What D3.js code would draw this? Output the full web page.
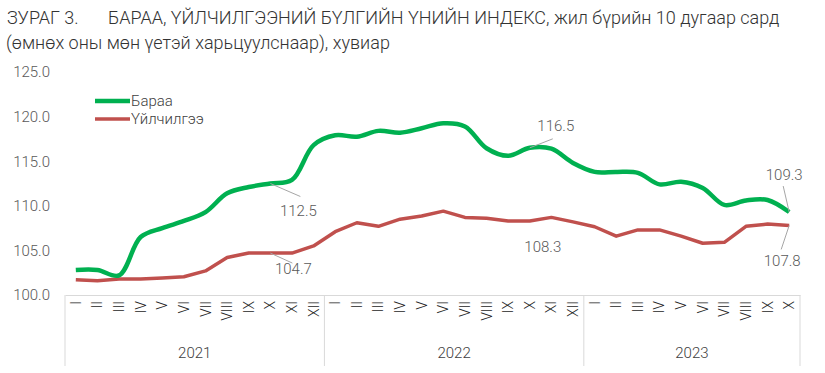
<!DOCTYPE html>
<html lang="mn">
<head>
  <meta charset="UTF-8">
  <title>Бараа, үйлчилгээний үнийн индекс</title>
  <script src="https://d3js.org/d3.v7.min.js"></script>
  <style>
    body { margin: 0; background: #fff; font-family: Roboto, "Noto Sans", sans-serif; }
    svg { display: block; }
    text { font-weight: 300; }
    .title { font-size: 18px; fill: #333; }
    .axis text { font-size: 15px; fill: #595959; font-family: Roboto, sans-serif; }
    .month text { font-size: 14px; fill: #262626; }
    .lbl { font-size: 15px; fill: #595959; }
    .legend { font-size: 15px; fill: #404040; }
  </style>
</head>
<body>
<svg width="825" height="373"></svg>

<script>
  // Он, сарууд
  const years = ["2021", "2022", "2023"];
  const months2021 = ["I","II","III","IV","V","VI","VII","VIII","IX","X","XI","XII"];
  const months2022 = ["I","II","III","IV","V","VI","VII","VIII","IX","X","XI","XII"];
  const months2023 = ["I","II","III","IV","V","VI","VII","VIII","IX","X"];

  // Бараа (ногоон)
  const baraa = [102.8, 102.8, 102.2, 106.5, 107.5, 108.3, 109.3, 111.4, 112.1, 112.5, 112.9, 116.8,
                 117.9, 117.75, 118.4, 118.2, 118.7, 119.25, 118.9, 116.45, 115.6, 116.5, 116.4, 114.8,
                 113.8, 113.8, 113.7, 112.4, 112.7, 112.0, 110.1, 110.6, 110.65, 109.3];
  // Үйлчилгээ (улаан)
  const uilchilgee = [101.7, 101.6, 101.8, 101.8, 101.9, 102.05, 102.7, 104.2, 104.7, 104.7, 104.7, 105.5,
                      107.1, 108.1, 107.7, 108.5, 108.85, 109.4, 108.7, 108.6, 108.3, 108.3, 108.7, 108.2,
                      107.65, 106.6, 107.3, 107.3, 106.6, 105.8, 105.9, 107.7, 107.95, 107.8];
  const yTicks = [100, 105, 110, 115, 120, 125];

  const svg = d3.select("svg");
  const green = "#00B050", red = "#C0504D";

  const cats = [];
  [months2021, months2022, months2023].forEach((ms, yi) => ms.forEach(m => cats.push({id: years[yi] + "-" + m, m, year: years[yi]})));

  const x = d3.scaleBand().domain(cats.map(d => d.id)).range([65, 800]).padding(0);
  const y = d3.scaleLinear().domain([100, 125]).range([295, 72]);
  const cx = i => x(cats[i].id) + x.bandwidth() / 2;

  // Гарчиг
  const t = svg.append("text").attr("class", "title").attr("y", 24);
  t.append("tspan").attr("x", 7).text("ЗУРАГ 3.");
  t.append("tspan").attr("x", 108).text("БАРАА, ҮЙЛЧИЛГЭЭНИЙ БҮЛГИЙН ҮНИЙН ИНДЕКС, жил бүрийн 10 дугаар сард");
  svg.append("text").attr("class", "title").attr("x", 6).attr("y", 49)
    .text("(өмнөх оны мөн үетэй харьцуулснаар), хувиар");

  // Y тэнхлэг
  const ya = svg.append("g").attr("class", "axis")
    .attr("transform", "translate(65,0)")
    .call(d3.axisLeft(y).tickValues(yTicks).tickFormat(d3.format(".1f")).tickSize(0).tickPadding(15));
  ya.select(".domain").remove();

  // X тэнхлэг (сар)
  const xa = svg.append("g").attr("class", "axis month")
    .attr("transform", "translate(0,295)")
    .call(d3.axisBottom(x).tickSize(0).tickFormat(id => cats.find(c => c.id === id).m));
  xa.select(".domain").attr("stroke", "#d9d9d9");
  xa.selectAll("text")
    .attr("y", 0).attr("dy", null)
    .attr("transform", "translate(0,6) rotate(-90)")
    .attr("text-anchor", "end")
    .attr("dominant-baseline", "central");

  // Оны хуваагч болон нэр
  const bounds = [0, 12, 24, 34];
  bounds.forEach(b => {
    const bx = b < cats.length ? x(cats[b].id) : x.range()[1];
    svg.append("line").attr("x1", bx).attr("x2", bx).attr("y1", 295).attr("y2", 366)
      .attr("stroke", "#d9d9d9").attr("stroke-width", 1);
  });
  years.forEach((yr, i) => {
    const x0 = x(cats[bounds[i]].id);
    const x1 = bounds[i + 1] < cats.length ? x(cats[bounds[i + 1]].id) : x.range()[1];
    svg.append("text").attr("class", "lbl").attr("x", (x0 + x1) / 2).attr("y", 358)
      .attr("text-anchor", "middle").style("fill", "#404040").text(yr);
  });

  // Шугамууд
  const lineG = d3.line().x((d, i) => cx(i)).y(d => y(d)).curve(d3.curveCatmullRom.alpha(0.5));
  const lineR = d3.line().x((d, i) => cx(i)).y(d => y(d));

  svg.append("path").datum(uilchilgee).attr("d", lineR)
    .attr("fill", "none").attr("stroke", red).attr("stroke-width", 3.5).attr("stroke-linejoin", "round");
  svg.append("path").datum(baraa).attr("d", lineG)
    .attr("fill", "none").attr("stroke", green).attr("stroke-width", 4.5).attr("stroke-linejoin", "round");

  // Утгын шошго (10 дугаар сар)
  const labels = [
    {s: baraa, i: 9, dx: 30, dy: 13, tx: 28, ty: 27, anchor: "middle"},
    {s: uilchilgee, i: 9, dx: 22, dy: 10, tx: 23, ty: 16, anchor: "middle"},
    {s: baraa, i: 21, dx: 23, dy: -9, tx: 26, ty: -22, anchor: "middle"},
    {s: uilchilgee, i: 21, dx: 0, dy: 0, tx: 13, ty: 26, anchor: "middle"},
    {s: baraa, i: 33, dx: -6, dy: -26, tx: -5, ty: -37, anchor: "middle"},
    {s: uilchilgee, i: 33, dx: -8, dy: 24, tx: -7, ty: 36, anchor: "middle"}
  ];
  labels.forEach(l => {
    const px = cx(l.i), py = y(l.s[l.i]);
    if (l.dx || l.dy) {
      svg.append("line").attr("x1", px).attr("y1", py).attr("x2", px + l.dx).attr("y2", py + l.dy)
        .attr("stroke", "#a6a6a6").attr("stroke-width", 1);
    }
    svg.append("text").attr("class", "lbl").attr("x", px + l.tx).attr("y", py + l.ty)
      .attr("text-anchor", l.anchor).attr("dominant-baseline", "central")
      .text(l.s[l.i].toFixed(1));
  });

  // Тайлбар
  const legend = svg.append("g").attr("transform", "translate(95,101)");
  [["Бараа", green, 4.5], ["Үйлчилгээ", red, 3.5]].forEach(([name, c, w], i) => {
    const row = legend.append("g").attr("transform", `translate(0,${i * 18})`);
    row.append("line").attr("x1", 0).attr("x2", 35).attr("stroke", c).attr("stroke-width", w);
    row.append("text").attr("class", "legend").attr("x", 36).attr("y", 0)
      .attr("dominant-baseline", "central").text(name);
  });
</script>
</body>
</html>
